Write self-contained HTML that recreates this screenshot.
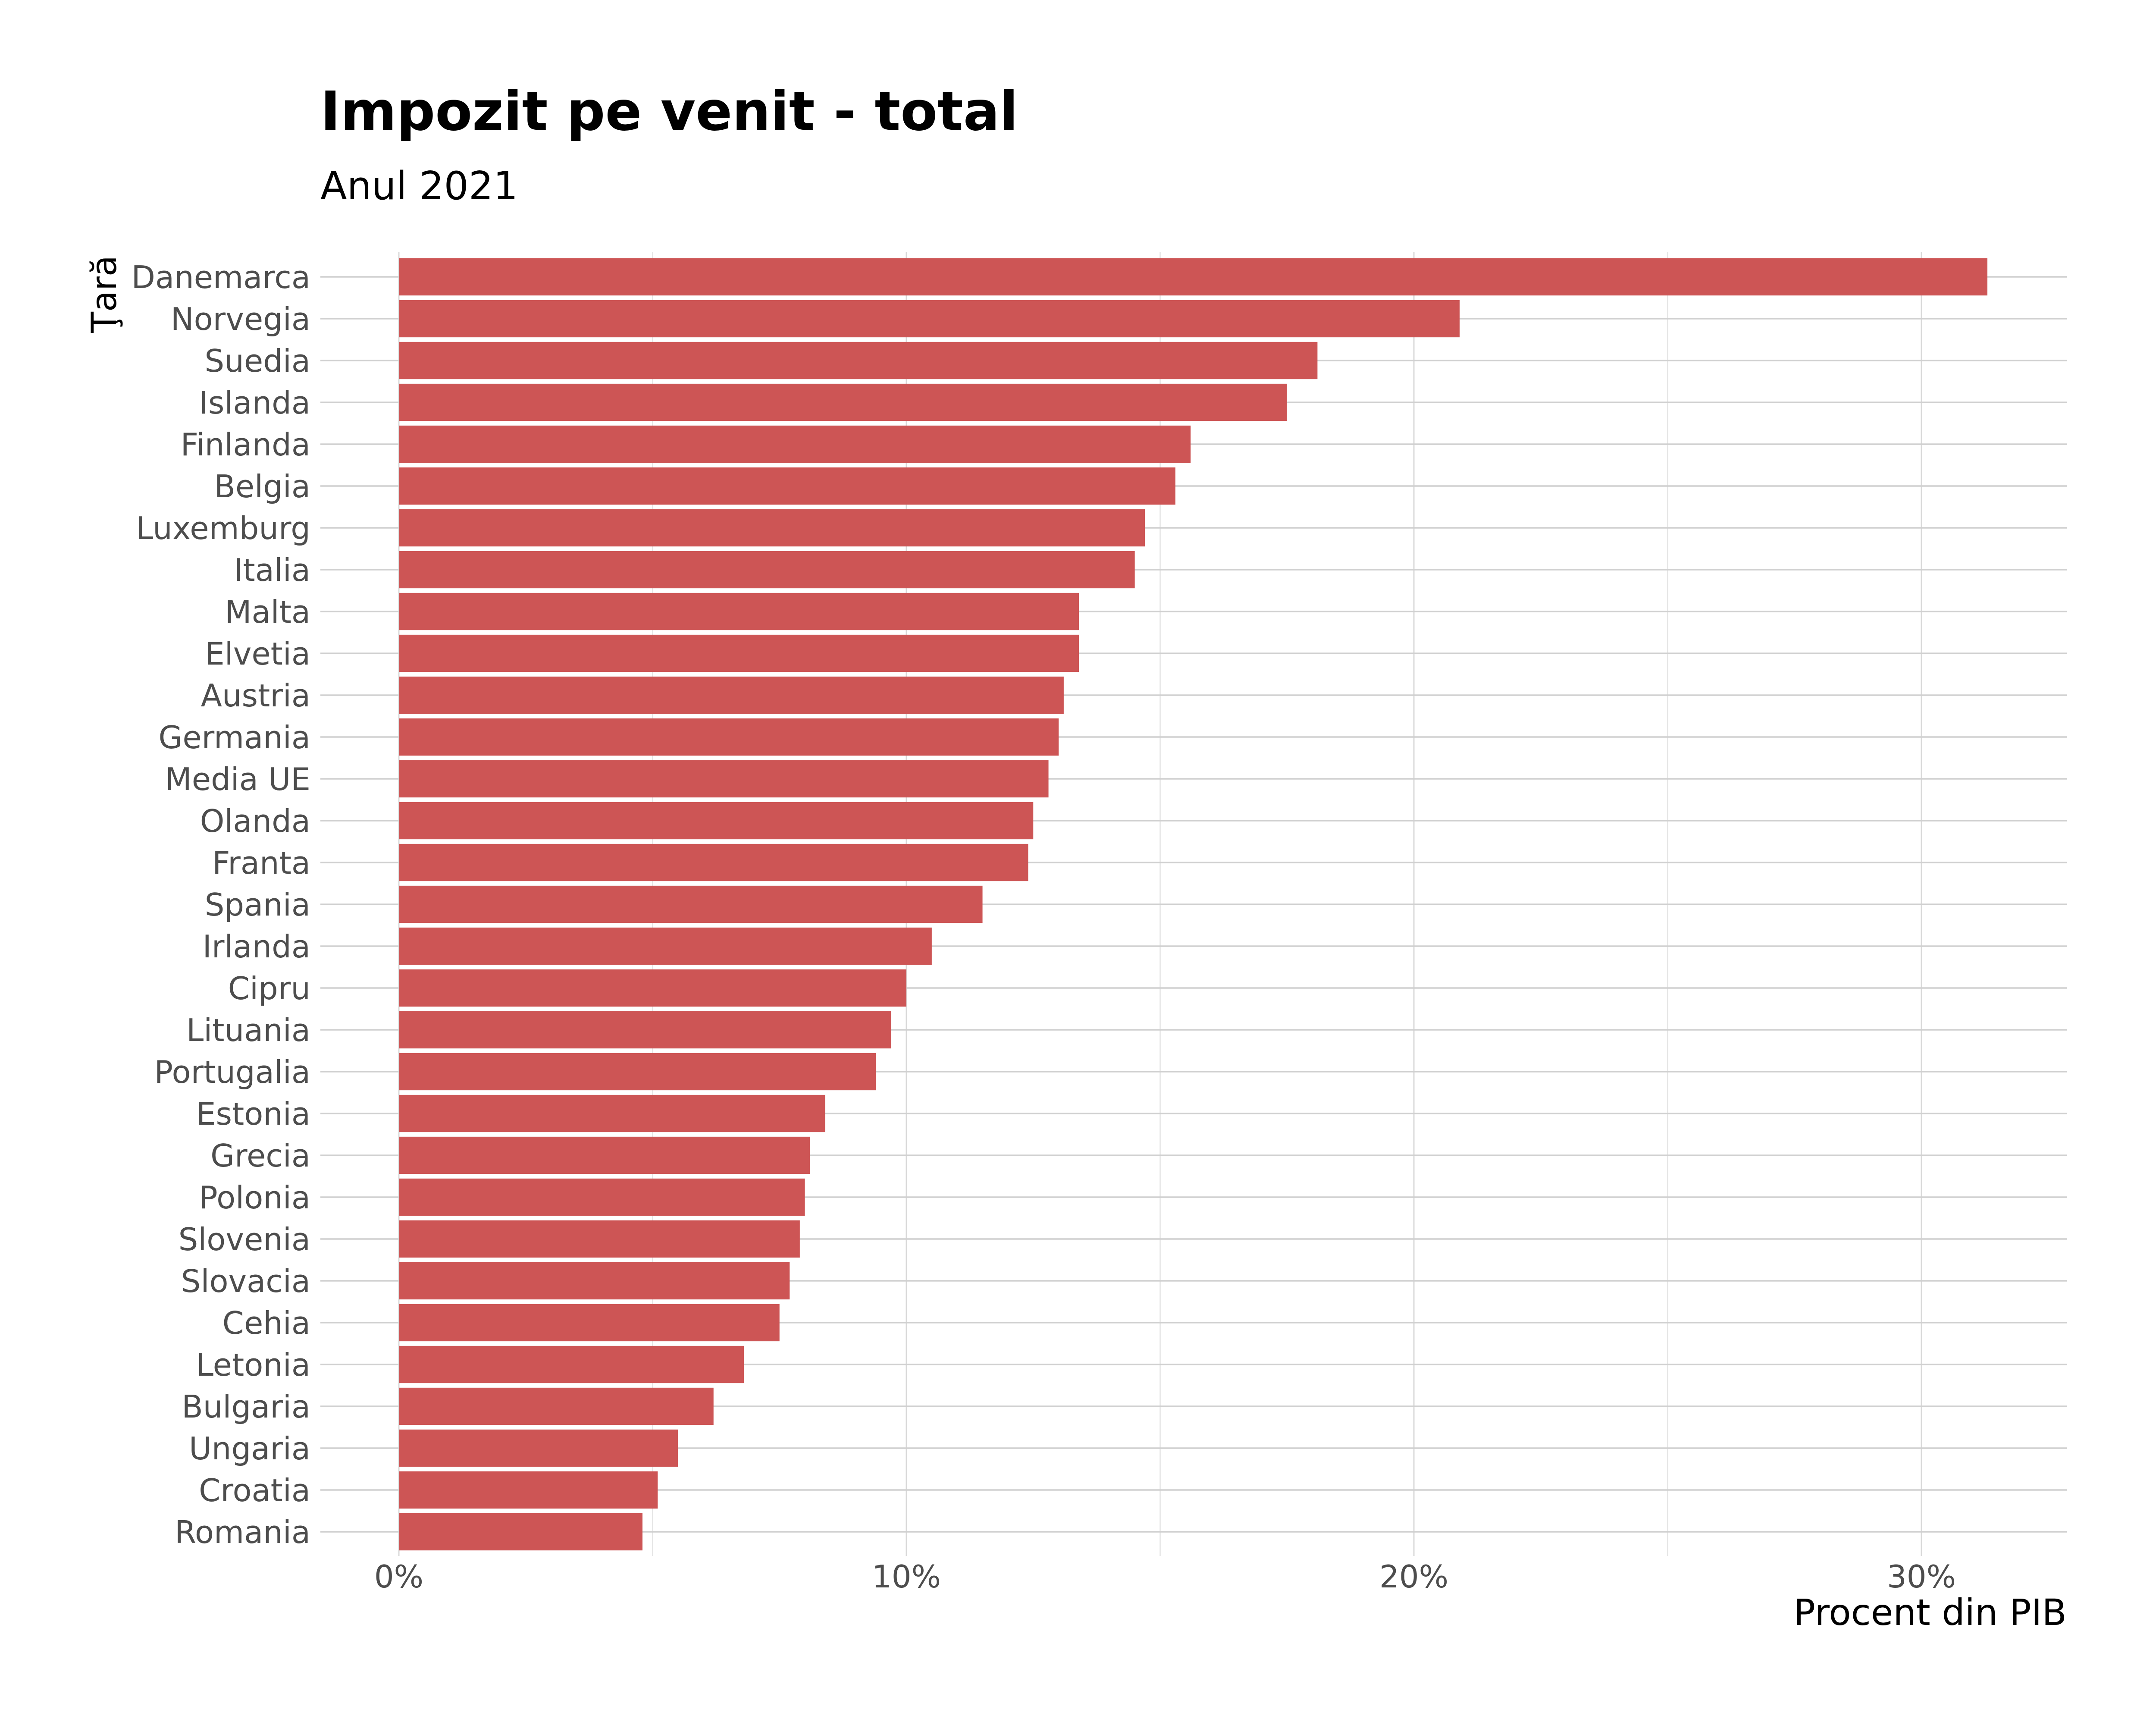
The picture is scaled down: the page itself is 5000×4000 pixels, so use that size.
<!DOCTYPE html>
<html><head><meta charset="utf-8"><style>
html,body{margin:0;padding:0;background:#fff;}
svg{display:block;font-family:"DejaVu Sans","Liberation Sans",sans-serif;}
</style></head><body>
<svg id="chart" width="5000" height="4000" viewBox="0 0 5000 4000" xmlns="http://www.w3.org/2000/svg">
<rect width="5000" height="4000" fill="#fff"/>
<text x="743" y="301" font-size="125" font-weight="bold" fill="#000">Impozit pe venit - total</text>
<text x="743" y="462" font-size="90" fill="#000">Anul 2021</text>
<g id="grid"></g>
<g id="bars"></g>
<g id="ylabels"></g>
<g id="xlabels"></g>
<text x="4793" y="3768" font-size="84" text-anchor="end" fill="#000">Procent din PIB</text>
<text transform="translate(269,682) rotate(-90)" font-size="80" text-anchor="middle" fill="#000">Ţară</text>
</svg>
<script>
const categories = ["Danemarca","Norvegia","Suedia","Islanda","Finlanda","Belgia","Luxemburg","Italia","Malta","Elvetia","Austria","Germania","Media UE","Olanda","Franta","Spania","Irlanda","Cipru","Lituania","Portugalia","Estonia","Grecia","Polonia","Slovenia","Slovacia","Cehia","Letonia","Bulgaria","Ungaria","Croatia","Romania"];
const values = [31.3,20.9,18.1,17.5,15.6,15.3,14.7,14.5,13.4,13.4,13.1,13.0,12.8,12.5,12.4,11.5,10.5,10.0,9.7,9.4,8.4,8.1,8.0,7.9,7.7,7.5,6.8,6.2,5.5,5.1,4.8];
const majorTicks = [0,10,20,30];
const tickLabels = ["0%","10%","20%","30%"];
const minorTicks = [5,15,25];

const NS="http://www.w3.org/2000/svg";
const panelL=743, panelR=4793, panelT=584, panelB=3608;
const x0=925, pxPer=117.7;
const rowTop=642, rowStep=97, band=0.89;
function xs(v){return x0+v*pxPer;}
function ys(i){return rowTop+i*rowStep;}
function mk(tag,attrs,parent){const e=document.createElementNS(NS,tag);for(const k in attrs)e.setAttribute(k,attrs[k]);parent.appendChild(e);return e;}
const grid=document.getElementById('grid'),bars=document.getElementById('bars'),yl=document.getElementById('ylabels'),xl=document.getElementById('xlabels');
minorTicks.forEach(t=>{
  const l=mk('line',{x1:xs(t),x2:xs(t),y1:panelT,y2:panelB,stroke:'#e3e3e3','stroke-width':2.5},grid);
  
  
});
majorTicks.forEach((t,i)=>{
  const l=mk('line',{x1:xs(t),x2:xs(t),y1:panelT,y2:panelB,stroke:'#d9d9d9','stroke-width':3},grid);
  
  
  const tx=mk('text',{x:xs(t),y:3681,'font-size':72,'text-anchor':'middle',fill:'#4d4d4d'},xl);
  tx.textContent=tickLabels[i];
  
  
});
categories.forEach((c,i)=>{
  const y=ys(i);
  const g=mk('line',{x1:panelL,x2:panelR,y1:y,y2:y,stroke:'#d0d0d0','stroke-width':3.5},grid);
  
  
  const h=rowStep*band;
  const r=mk('rect',{x:xs(0),y:y-h/2,width:xs(values[i])-xs(0),height:h,fill:'#cd5555'},bars);
  
  
  const t=mk('text',{x:720,y:y+26,'font-size':72,'text-anchor':'end',fill:'#4d4d4d'},yl);
  t.textContent=c;
  
  
});
</script>
</body></html>
